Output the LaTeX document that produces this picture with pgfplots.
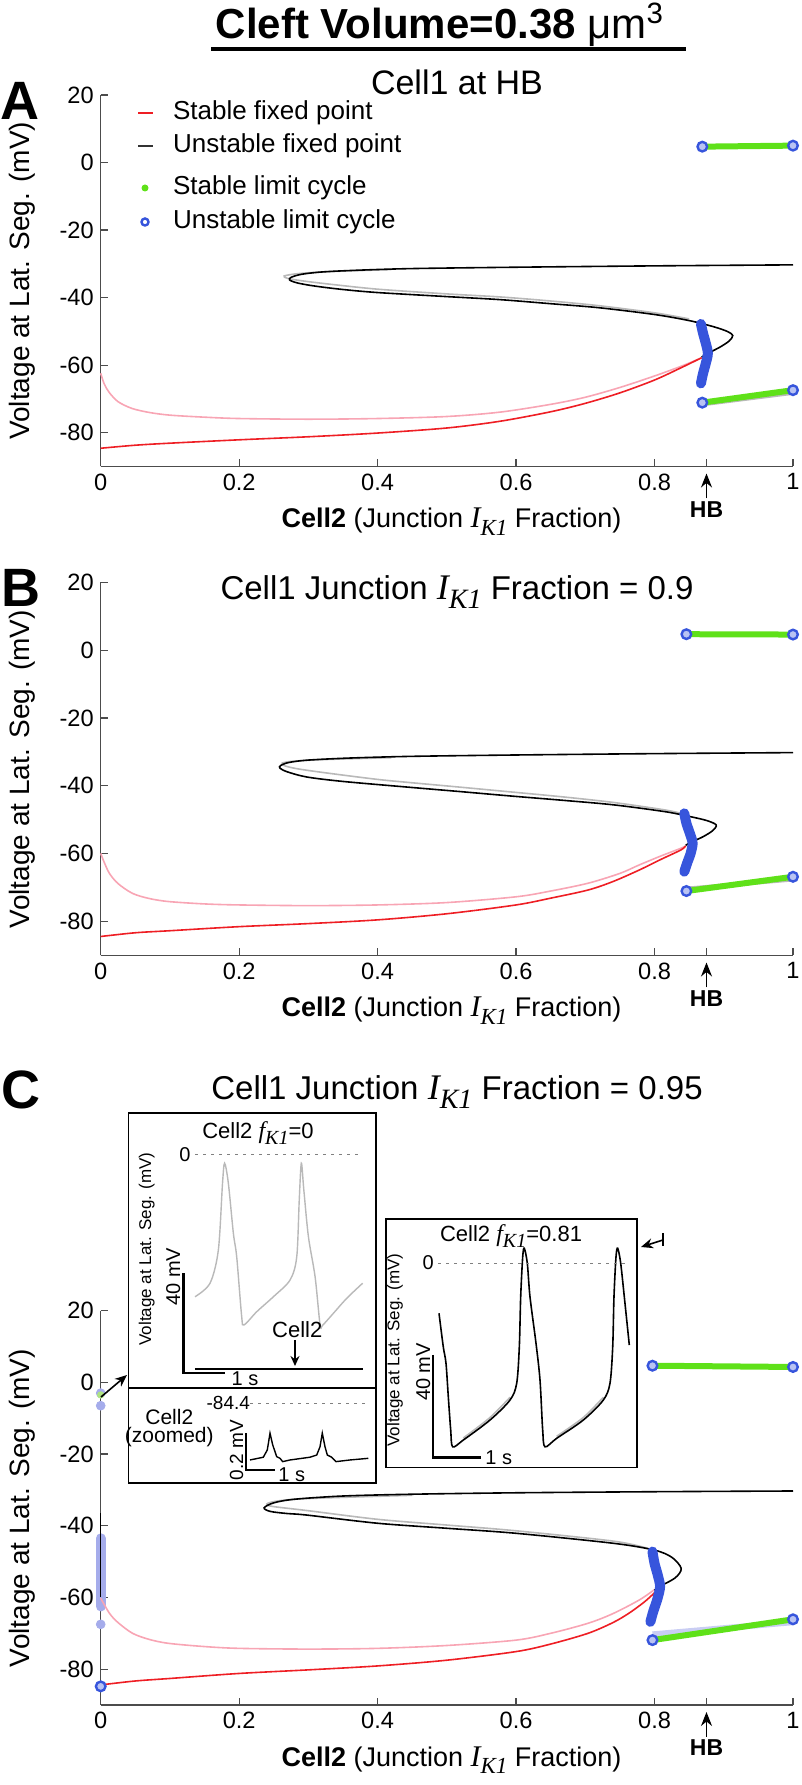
\documentclass[border=0pt]{standalone}
\usepackage{fontspec}
\setmainfont{Liberation Sans}
\newfontfamily\tms{Liberation Serif}
\usepackage{pgfplots}
\pgfplotsset{compat=1.18}
\usetikzlibrary{arrows.meta}

\definecolor{stabred}{RGB}{238,30,36}
\definecolor{ghostred}{RGB}{248,165,180}
\definecolor{ghostgray}{RGB}{185,185,185}
\definecolor{lcgreen}{RGB}{95,225,25}
\definecolor{lcblue}{RGB}{55,85,220}
\definecolor{paleblue}{RGB}{165,172,235}
\definecolor{palegreen}{RGB}{175,228,130}

\newcommand\fs[1]{\fontsize{#1}{#1}\selectfont}
% italic I_K1 / f_K1 in Times
\newcommand\IK[2]{{\tms\itshape\fs{#1}I\raisebox{-0.55ex}{\fs{#2}K1}}}
\newcommand\fK[2]{{\tms\itshape\fs{#1}f\raisebox{-0.5ex}{\fs{#2}K1}}}

\pgfplotsset{
  panel/.style={
    scale only axis, width=346.15pt,
    xmin=0, xmax=1, ymin=-90, ymax=20,
    axis lines=left,
    axis line style={-, draw=black!70, line width=0.6pt},
    tick align=inside, major tick length=3.5pt,
    tick style={draw=black!70, line width=0.6pt},
    xtick={0,0.2,0.4,0.6,0.8,0.875,1},
    xticklabels={0,0.2,0.4,0.6,0.8,,1},
    ytick={-80,-60,-40,-20,0,20},
    yticklabels={-80,-60,-40,-20,0,20},
    tick label style={font=\fs{11.8}},
    clip=false, anchor=south west,
  },
  inset/.style={hide axis, clip=false, anchor=south west},
  fpS/.style={stabred, line width=0.8pt, smooth},
  fpSg/.style={ghostred, line width=0.8pt, smooth},
  fpU/.style={black, line width=0.8pt, smooth},
  fpUg/.style={ghostgray, line width=0.8pt, smooth},
  ulc/.style={lcblue, line width=5pt, line cap=round, line join=round, smooth},
  slc/.style={lcgreen, line width=3pt, line cap=round},
  lcend/.style={only marks, mark=*, mark size=2.4pt,
    mark options={draw=lcblue, fill=lcblue!35, line width=1.2pt}},
}
\tikzset{px/.style={x=0.5pt, y=-0.5pt, yshift=892.5pt}}

\begin{document}
\begin{tikzpicture}
\useasboundingbox (0,0) rectangle (401pt,892.5pt);

% ---------------- panel A
\begin{axis}[panel, at={(50.35pt,659.25pt)}, height=185.75pt]
\addplot[fpSg] coordinates {(0,-62.4) (0.005,-65.5) (0.012,-68) (0.025,-70.8) (0.045,-72.8) (0.07,-74) (0.1,-74.8) (0.15,-75.4) (0.2,-75.8) (0.3,-76.0) (0.4,-75.8) (0.5,-75.2) (0.577,-73.9) (0.65,-71.6) (0.7,-69.5) (0.75,-66.6) (0.8,-63.2) (0.84,-60.2) (0.868,-57.8)};
\addplot[fpS] coordinates {(0,-84.6) (0.05,-83.7) (0.1,-83.1) (0.2,-82.1) (0.3,-81.2) (0.4,-80.1) (0.5,-78.6) (0.577,-76.6) (0.65,-73.8) (0.7,-71.3) (0.75,-68.2) (0.8,-64.4) (0.84,-60.6) (0.868,-57.8)};
\addplot[fpUg] coordinates {(0.42,-31.7) (0.33,-32.3) (0.285,-32.9) (0.265,-33.6) (0.27,-34.3) (0.29,-35.0) (0.33,-36.0) (0.4,-37.5) (0.5,-38.9) (0.577,-39.8) (0.65,-41.0) (0.72,-42.4) (0.8,-44.5) (0.85,-46.3)};
\addplot[fpU] coordinates {(1,-30.3) (0.8,-30.6) (0.6,-31.0) (0.45,-31.4) (0.37,-31.9) (0.32,-32.4) (0.29,-33.1) (0.275,-34.0) (0.273,-34.8) (0.285,-35.7) (0.31,-36.6) (0.35,-37.6) (0.4,-38.5) (0.5,-39.7) (0.577,-40.6) (0.65,-41.8) (0.72,-43.0) (0.8,-45.0) (0.85,-46.8) (0.885,-48.6) (0.905,-50.0) (0.913,-51.2) (0.908,-52.8) (0.895,-54.6) (0.88,-56.2) (0.868,-57.6)};
\addplot[ulc] coordinates {(0.867,-47.8) (0.870,-50.5) (0.874,-53.5) (0.877,-56.5) (0.874,-59.5) (0.870,-62.5) (0.867,-65.4)};
\addplot[slc] coordinates {(0.869,4.7) (1,5.0)};
\addplot[ghostgray, line width=2pt] coordinates {(0.869,-71.6) (1,-68.2)};
\addplot[slc] coordinates {(0.869,-71.1) (1,-67.4)};
\addplot[lcend] coordinates {(0.869,4.7) (1,5.0) (0.869,-71.1) (1,-67.4)};
\end{axis}

% ---------------- panel B
\begin{axis}[panel, at={(50.35pt,414.75pt)}, height=186.6pt]
\addplot[fpSg] coordinates {(0,-59.9) (0.005,-62.5) (0.0126,-65.8) (0.025,-68.8) (0.046,-71.7) (0.07,-73.2) (0.098,-74.1) (0.15,-74.8) (0.2,-75.1) (0.3,-75.3) (0.4,-75.1) (0.5,-74.4) (0.6,-72.7) (0.65,-71.0) (0.704,-68.7) (0.75,-65.8) (0.778,-63.3) (0.81,-60.6) (0.838,-58.4) (0.845,-57.7)};
\addplot[fpS] coordinates {(0,-84.4) (0.05,-83.3) (0.1,-82.7) (0.2,-81.5) (0.3,-80.6) (0.4,-79.5) (0.5,-77.7) (0.6,-75.1) (0.65,-73.1) (0.704,-70.7) (0.74,-68.2) (0.778,-64.8) (0.81,-61.6) (0.838,-58.9) (0.845,-57.7)};
\addplot[fpUg] coordinates {(0.42,-31.7) (0.33,-32.2) (0.28,-32.7) (0.262,-33.3) (0.266,-34.1) (0.285,-35.0) (0.33,-36.3) (0.4,-38.1) (0.445,-39.0) (0.52,-40.4) (0.593,-41.8) (0.67,-43.3) (0.741,-44.9) (0.815,-47.1) (0.84,-48.2)};
\addplot[fpU] coordinates {(1,-30.2) (0.8,-30.5) (0.6,-30.9) (0.45,-31.3) (0.36,-31.8) (0.3,-32.4) (0.272,-33.1) (0.26,-34.0) (0.259,-34.8) (0.27,-35.9) (0.298,-37.4) (0.35,-38.7) (0.445,-40.4) (0.52,-41.7) (0.593,-43.0) (0.67,-44.3) (0.741,-45.6) (0.815,-47.6) (0.85,-49.0) (0.875,-50.2) (0.889,-51.5) (0.884,-53.2) (0.87,-55.0) (0.855,-56.4) (0.845,-57.5)};
\addplot[ulc] coordinates {(0.843,-48.1) (0.846,-51) (0.851,-54) (0.855,-56.9) (0.852,-60) (0.847,-62.8) (0.843,-65.3)};
\addplot[slc] coordinates {(0.846,4.7) (1,4.6)};
\addplot[ghostgray, line width=2pt] coordinates {(0.846,-70.3) (1,-67.6)};
\addplot[slc] coordinates {(0.846,-71.0) (1,-66.8)};
\addplot[lcend] coordinates {(0.846,4.7) (1,4.6) (0.846,-71.0) (1,-66.8)};
\end{axis}

% ---------------- panel C
\begin{axis}[panel, at={(50.35pt,40pt)}, height=197.15pt]
\addplot[paleblue, line width=5pt, line cap=round] coordinates {(0,-43.5) (0,-62.5)};
\addplot[only marks, mark=*, mark size=2.2pt, paleblue] coordinates {(0,-67.5) (0,-6.5) (0,-3.0)};
\addplot[only marks, mark=*, mark size=1.6pt, palegreen] coordinates {(0,-3.5)};
\addplot[black, line width=0.8pt] coordinates {(0,-36.5) (0,-60)};
\addplot[fpSg] coordinates {(0,-60.2) (0.0126,-64.4) (0.025,-67) (0.046,-70) (0.07,-71.7) (0.098,-72.8) (0.15,-73.7) (0.2,-74.2) (0.3,-74.4) (0.4,-74.2) (0.5,-73.4) (0.6,-71.9) (0.65,-70) (0.704,-67.2) (0.74,-64.5) (0.778,-60.7) (0.8,-57.8)};
\addplot[fpS] coordinates {(0,-84.4) (0.05,-83.3) (0.1,-82.6) (0.2,-81.2) (0.3,-80.2) (0.4,-79.1) (0.5,-77.5) (0.6,-75.1) (0.65,-73) (0.704,-70) (0.74,-67) (0.763,-64.4) (0.785,-61.3) (0.8,-58.7)};
\addplot[fpUg] coordinates {(0.45,-31.5) (0.3,-32.4) (0.255,-33.1) (0.24,-33.9) (0.248,-34.6) (0.3,-35.8) (0.4,-38.2) (0.5,-39.8) (0.6,-41.4) (0.741,-44.3) (0.79,-46.3)};
\addplot[fpU] coordinates {(1,-30.3) (0.8,-30.5) (0.6,-30.8) (0.45,-31.2) (0.35,-31.7) (0.28,-32.6) (0.25,-33.6) (0.236,-35.0) (0.245,-36.0) (0.27,-36.6) (0.297,-37.0) (0.4,-39.3) (0.5,-40.7) (0.6,-42.1) (0.741,-44.9) (0.8,-46.8) (0.825,-48.8) (0.8385,-51.9) (0.83,-54.5) (0.807,-57.0) (0.8,-58)};
\addplot[ulc] coordinates {(0.797,-47.2) (0.800,-50.5) (0.805,-54) (0.808,-57) (0.804,-60.5) (0.798,-64) (0.794,-66.8)};
\addplot[slc] coordinates {(0.797,4.65) (1,4.3)};
\addplot[paleblue!60, line width=3pt] coordinates {(0.797,-70.3) (1,-66.9)};
\addplot[slc] coordinates {(0.797,-71.9) (1,-66.1)};
\addplot[lcend] coordinates {(0.797,4.65) (1,4.3) (0.797,-71.9) (1,-66.1) (0,-84.8)};
\end{axis}

% ---------------- annotations and inset frames
\begin{scope}[px]
  % main title
  \node[font=\bfseries\fs{21}] at (440,25) {Cleft Volume=0.38 {\mdseries μm\textsuperscript{3}}};
  \draw[line width=1.6pt] (211,49) -- (686,49);
  % panel letters
  \node[font=\bfseries\fs{27}] at (20,101) {A};
  \node[font=\bfseries\fs{27}] at (21,588) {B};
  \node[font=\bfseries\fs{27}] at (21,1090) {C};
  % panel titles
  \node[font=\fs{17}] at (457,82) {Cell1 at HB};
  \node[font=\fs{16.5}] at (457,592) {Cell1 Junction \IK{18}{14} Fraction = 0.9};
  \node[font=\fs{16.5}] at (457,1092) {Cell1 Junction \IK{18}{14} Fraction = 0.95};
  % y labels
  \foreach \yc in {280.75,769,1508}
    \node[rotate=90, font=\fs{14}] at (22,\yc) {Voltage at Lat. Seg. (mV)};
  % x labels and HB markers
  \foreach \ax in {466.5,955.5,1705} {
    \node[font=\fs{13.5}] at (451.5,\ax+55) {\textbf{Cell2} (Junction \IK{15}{11.5} Fraction)};
    \draw[-{Stealth[length=7pt,width=5.5pt]}, line width=0.8pt] (706.5,\ax+32) -- (706.5,\ax+7);
    \node[font=\bfseries\fs{11.5}] at (706.5,\ax+43) {HB};
  }
  % legend of panel A
  \draw[stabred, line width=0.8pt] (138,113) -- (153,113);
  \node[anchor=west, font=\fs{13}] at (166,113) {Stable fixed point};
  \draw[black!80, line width=0.8pt] (138,146) -- (153,146);
  \node[anchor=west, font=\fs{13}] at (166,146) {Unstable fixed point};
  \fill[lcgreen] (145,188) circle (3.5);
  \node[anchor=west, font=\fs{13}] at (166,188) {Stable limit cycle};
  \draw[lcblue, line width=1.2pt, fill=white] (145,222) circle (3.5);
  \node[anchor=west, font=\fs{13}] at (166,222) {Unstable limit cycle};
  % inset frames
  \draw[line width=0.8pt, fill=white] (128.3,1113.3) rectangle (375.7,1388.3);
  \draw[line width=0.8pt, fill=white] (128.3,1388.3) rectangle (375.7,1483.3);
  \draw[line width=0.8pt, fill=white] (385.7,1219.3) rectangle (637,1467.7);
  % arrows to the insets
  \draw[-{Stealth[length=6pt,width=5pt]}, line width=0.8pt] (101,1397) -- (127,1375);
  \draw[-{Stealth[length=6pt,width=5pt]}, line width=0.8pt] (663,1240) -- (641,1247);
  \draw[line width=0.8pt] (663,1233) -- (663,1246);
\end{scope}

% ---------------- inset: Cell2 fK1 = 0
\begin{axis}[inset, at={(97.5pt,202.5pt)}, x=20.85pt, y=1.25pt,
  xmin=0, xmax=4.05, ymin=-90, ymax=0]
\addplot[ghostgray, line width=0.7pt, smooth] coordinates {(0,-56.7) (0.36,-51.3) (0.56,-38) (0.66,-11.3) (0.71,-3.3) (0.80,-11.3) (0.92,-31.3) (1.0,-40.7) (1.12,-64.7) (1.175,-68) (1.48,-62.7) (1.88,-56.7) (2.28,-50) (2.44,-40.7) (2.50,-18) (2.55,-3.3) (2.61,-14) (2.72,-32.7) (2.88,-48.7) (3.0,-68) (3.06,-68.1) (3.32,-63.3) (3.64,-57.3) (4.02,-51.3)};
\addplot[black, line width=0.8pt] coordinates {(0,-85.7) (4.02,-85.7)};
\end{axis}

% ---------------- inset: Cell2 fK1 = 0.81
\begin{axis}[inset, at={(219.5pt,160.85pt)}, x=23.5pt, y=1.25pt,
  xmin=0, xmax=4.1, ymin=-80, ymax=10]
\addplot[ghostgray, line width=0.8pt, smooth] coordinates {(0.517,-69.9) (1.085,-61.7) (1.511,-53.6)};
\addplot[ghostgray, line width=0.8pt, smooth] coordinates {(2.504,-69.2) (3.070,-61.7) (3.496,-53.6)};
\addplot[black, line width=0.8pt, smooth] coordinates {(0,-20) (0.091,-33.4) (0.149,-40) (0.198,-53.4) (0.249,-66.7) (0.291,-73.4) (0.517,-70.7) (1.085,-62.7) (1.511,-54.7) (1.653,-48) (1.709,-33.4) (1.738,-13.4) (1.781,2.6) (1.815,6) (1.879,0) (1.936,-13.4) (2.064,-32) (2.149,-46.7) (2.206,-66.7) (2.255,-73.4) (2.504,-70) (3.070,-62.7) (3.496,-54.7) (3.638,-48) (3.696,-33.4) (3.723,-13.4) (3.766,2.6) (3.802,6) (3.866,0) (3.957,-16) (4.049,-32.7)};
\end{axis}

% ---------------- inset: Cell2 zoomed
\begin{axis}[inset, at={(125pt,158.75pt)}, x=14.5pt, y=91.75pt,
  xmin=0, xmax=4.1, ymin=-84.75, ymax=-84.4]
\addplot[black, line width=0.7pt] coordinates {(0,-84.709) (0.459,-84.694) (0.597,-84.654) (0.690,-84.563) (0.783,-84.627) (0.921,-84.691) (1.034,-84.700) (1.128,-84.718) (1.379,-84.709) (2.069,-84.694) (2.300,-84.682) (2.414,-84.637) (2.493,-84.563) (2.586,-84.637) (2.666,-84.682) (2.817,-84.694) (2.966,-84.718) (3.448,-84.709) (4.079,-84.700)};
\end{axis}

% ---------------- inset texts and scale bars
\begin{scope}[px]
  % inset 1
  \node[font=\fs{11}] at (258,1133) {Cell2 \fK{12}{10}=0};
  \node[font=\fs{10}] at (185,1155) {0};
  \draw[gray, dash pattern=on 1.5pt off 2.5pt, line width=0.5pt] (195,1155) -- (360,1155);
  \draw[line width=1.2pt] (183.3,1273.3) -- (183.3,1373.3) -- (225,1373.3);
  \node[rotate=90, font=\fs{10}] at (173.3,1276.7) {40 mV};
  \node[font=\fs{10}] at (245,1379) {1 s};
  \node[rotate=90, font=\fs{8.5}] at (146.7,1249) {Voltage at Lat. Seg. (mV)};
  \node[font=\fs{11}] at (297.3,1330) {Cell2};
  \draw[-{Stealth[length=5pt,width=4.5pt]}, line width=0.8pt] (295,1340) -- (295,1366);
  % inset 3
  \node[font=\fs{10.5}] at (169.3,1416.7) {Cell2};
  \node[font=\fs{10.5}] at (169.3,1437) {(zoomed)};
  \node[font=\fs{9.5}] at (228.3,1403.3) {-84.4};
  \draw[gray, dash pattern=on 1.5pt off 2.5pt, line width=0.5pt] (250,1403.3) -- (366.7,1403.3);
  \draw[line width=1.2pt] (246,1433.3) -- (246,1470) -- (275,1470);
  \node[rotate=90, font=\fs{9.5}] at (236.7,1450) {0.2 mV};
  \node[font=\fs{10}] at (291.7,1475) {1 s};
  % inset 2
  \node[anchor=west, font=\fs{11}] at (433,1236) {Cell2 \fK{12}{10}=0.81};
  \node[font=\fs{10}] at (428.3,1262.3) {0};
  \draw[gray, dash pattern=on 1.5pt off 2.5pt, line width=0.5pt] (438.3,1263.3) -- (626.7,1263.3);
  \node[rotate=90, font=\fs{8.5}] at (395,1350) {Voltage at Lat. Seg. (mV)};
  \draw[line width=1.2pt] (432.7,1355) -- (432.7,1457.7) -- (480.8,1457.7);
  \node[rotate=90, font=\fs{10}] at (423.3,1372) {40 mV};
  \node[font=\fs{10}] at (498.7,1457.7) {1 s};
\end{scope}
\end{tikzpicture}
\end{document}
